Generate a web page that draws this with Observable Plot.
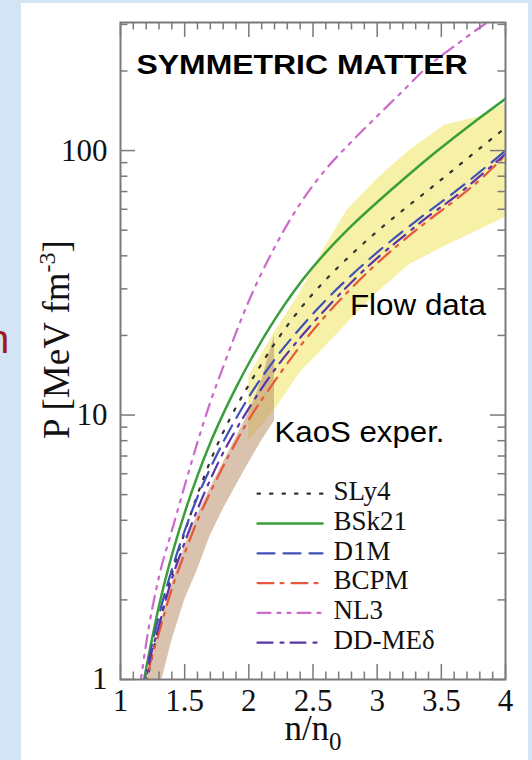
<!DOCTYPE html>
<html><head><meta charset="utf-8">
<script src="https://cdn.jsdelivr.net/npm/d3@7"></script>
<script src="https://cdn.jsdelivr.net/npm/@observablehq/plot@0.6"></script>
<style>
body{margin:0;}
#page{position:relative;width:532px;height:760px;overflow:hidden;background:#d4e4f4;}
#panel{position:absolute;left:21px;top:3px;width:507px;height:757px;background:#fff;}
#stray{position:absolute;left:-13px;top:319px;font:40px/40px "Liberation Sans",Arial,sans-serif;color:#9a1c1c;}
#chart{position:absolute;left:0;top:0;}
</style></head><body>
<div id="page"><div id="panel"></div><div id="stray">n</div><div id="chart"></div></div>
<script>
// ---- data ----
const nGrid = [1.15, 1.2, 1.3, 1.4, 1.5, 1.6, 1.7, 1.8, 1.9, 2.0, 2.2, 2.4, 2.6, 2.8, 3.0, 3.2, 3.4, 3.6, 3.8, 4.0];
const sly4  = [0.7, 0.95, 1.6, 2.5, 3.6, 5.0, 6.7, 8.6, 10.7, 13.0, 18.6, 25.2, 32.5, 40.5, 49.5, 59.5, 71, 85, 102, 122];
const bsk21 = [0.82, 1.1, 1.9, 2.95, 4.27, 5.9, 7.85, 10.1, 12.7, 15.7, 22.9, 31.6, 41.2, 51.9, 63.8, 77.6, 93.8, 112, 133, 157];
const d1m   = [0.75, 1.05, 1.75, 2.6, 3.65, 4.9, 6.3, 7.9, 9.7, 11.7, 16.2, 21.3, 27.2, 33.8, 41.2, 49.5, 58.8, 69.5, 83, 100];
const bcpm  = [0.6, 0.95, 1.5, 2.2, 3.0, 4.0, 5.1, 6.4, 7.9, 9.6, 13.4, 18.2, 23.8, 30.2, 37.5, 45.5, 54.5, 64.5, 77.5, 96];
const nl3   = [0.93, 1.37, 2.45, 3.65, 5.4, 7.9, 11.2, 15.2, 20.5, 27.0, 43, 63, 85, 108, 135, 168, 209, 248, 292, 339];
const ddme  = [0.65, 1.0, 1.6, 2.4, 3.3, 4.4, 5.7, 7.2, 8.8, 10.6, 14.8, 19.6, 25.2, 31.8, 39.2, 47.2, 56.5, 66.5, 80, 97];

const seriesNames  = ["SLy4", "BSk21", "D1M", "BCPM", "NL3", "DD-MEδ"];
const seriesValues = [sly4, bsk21, d1m, bcpm, nl3, ddme];
const seriesColors = ["#333333", "#3a9e3a", "#3f51b5", "#e8573c", "#cc6acc", "#5b35a8"];
const seriesDash   = ["2.5,10", null, "17,9", "16,7,3,8", "13,7,3,7,3,7", "15,8,3,7"];
const seriesWidth  = [2.2, 2.5, 2.2, 2.2, 2.2, 2.2];

const flowN    = [2.0, 2.2, 2.4, 2.58, 2.76, 3.0, 3.25, 3.53, 3.79, 4.0];
const flowHigh = [14, 20.5, 29, 42, 59, 78, 100, 125, 134, 150];
const flowLow  = [8.0, 10.4, 14.5, 17.8, 22, 29, 37, 43.5, 50, 56];

const kaosN    = [1.2, 1.3, 1.4, 1.5, 1.6, 1.7, 1.8, 1.9, 2.0, 2.1, 2.2];
const kaosHigh = [0.95, 1.55, 2.3, 3.2, 4.2, 5.3, 6.6, 8.2, 10.2, 13.5, 20];
const kaosLow  = [0.6, 0.9, 1.4, 2.0, 2.6, 3.5, 4.4, 5.4, 6.6, 8.0, 9.5];

const xMajor = [1, 1.5, 2, 2.5, 3, 3.5, 4];
const xMinor = [1.1,1.2,1.3,1.4,1.6,1.7,1.8,1.9,2.1,2.2,2.3,2.4,2.6,2.7,2.8,2.9,3.1,3.2,3.3,3.4,3.6,3.7,3.8,3.9];
const yMajor = [1, 10, 100];
const yMinor = [2,3,4,5,6,7,8,9,20,30,40,50,60,70,80,90,200,300];

const annotations = [
  {text: "Flow data", n: 2.788, p: 23.9, size: 29, len: 136},
  {text: "KaoS exper.", n: 2.2, p: 7.9, size: 29, len: 170}
];

// ---- layout ----
const W = 532, H = 760, mL = 120, mR = 27, mT = 22, mB = 81;
const xDomain = [1, 4], yDomain = [1, 305];
const plotW = W - mL - mR, plotH = H - mT - mB;
const xs = d3.scaleLinear(xDomain, [mL, W - mR]);
const ys = d3.scaleLog(yDomain, [H - mB, mT]);
const serif = "Liberation Serif, Times New Roman, serif";
const sans = "Liberation Sans, Arial, sans-serif";
const axisColor = "#7a7a7a";

const curveMarks = seriesNames.map((name, i) =>
  Plot.line(nGrid.map((n, j) => ({n, p: seriesValues[i][j]})), {
    x: "n", y: "p", stroke: seriesColors[i], strokeWidth: seriesWidth[i],
    strokeDasharray: seriesDash[i], curve: "monotone-x", clip: true
  }));

// legend (placed in plot coordinates)
const legendMarks = seriesNames.flatMap((name, i) => {
  const base = 499.5 + 29.8 * i;
  const yl = ys.invert(base - 6.3);
  return [
    Plot.line([{n: xs.invert(257), p: yl}, {n: xs.invert(322), p: yl}], {
      x: "n", y: "p", stroke: seriesColors[i], strokeWidth: seriesWidth[i], strokeDasharray: seriesDash[i]
    }),
    Plot.text([{n: xs.invert(333), p: ys.invert(base), t: name}], {
      x: "n", y: "p", text: "t", textAnchor: "start", lineAnchor: "bottom",
      fontFamily: serif, fontSize: 27, fill: "#111"
    })
  ];
});

const svg = Plot.plot({
  width: W, height: H,
  marginLeft: mL, marginRight: mR, marginTop: mT, marginBottom: mB,
  style: {background: "transparent", overflow: "visible"},
  x: {domain: xDomain, axis: null},
  y: {type: "log", domain: yDomain, axis: null},
  marks: [
    Plot.areaY(flowN.map((n, i) => ({n, lo: flowLow[i], hi: flowHigh[i]})),
      {x: "n", y1: "lo", y2: "hi", fill: "#f3ec8a", fillOpacity: 0.75, clip: true}),
    Plot.areaY(kaosN.map((n, i) => ({n, lo: kaosLow[i], hi: kaosHigh[i]})),
      {x: "n", y1: "lo", y2: "hi", fill: "#b98f6b", fillOpacity: 0.55, clip: true}),
    ...curveMarks,
    // ticks, pointing inward on all four sides
    Plot.ruleX(xMajor, {x: d => d, insetTop: plotH - 15, stroke: axisColor, strokeWidth: 1.5}),
    Plot.ruleX(xMajor, {x: d => d, insetBottom: plotH - 15, stroke: axisColor, strokeWidth: 1.5}),
    Plot.ruleX(xMinor, {x: d => d, insetTop: plotH - 7.5, stroke: axisColor, strokeWidth: 1.5}),
    Plot.ruleX(xMinor, {x: d => d, insetBottom: plotH - 7.5, stroke: axisColor, strokeWidth: 1.5}),
    Plot.ruleY(yMajor, {y: d => d, insetRight: plotW - 15, stroke: axisColor, strokeWidth: 1.5}),
    Plot.ruleY(yMajor, {y: d => d, insetLeft: plotW - 15, stroke: axisColor, strokeWidth: 1.5}),
    Plot.ruleY(yMinor, {y: d => d, insetRight: plotW - 7.5, stroke: axisColor, strokeWidth: 1.5}),
    Plot.ruleY(yMinor, {y: d => d, insetLeft: plotW - 7.5, stroke: axisColor, strokeWidth: 1.5}),
    Plot.frame({stroke: axisColor, strokeWidth: 2}),
    // tick labels
    Plot.text(xMajor, {x: d => d, frameAnchor: "bottom", dy: 31.4, lineAnchor: "bottom",
      text: d => String(d), fontFamily: serif, fontSize: 31, fill: "#111"}),
    Plot.text(yMajor, {y: d => d, frameAnchor: "left", dx: -13, textAnchor: "end",
      text: d => String(d), fontFamily: serif, fontSize: 31, fill: "#111"}),
    // axis labels
    Plot.text(["n/n0"], {frameAnchor: "bottom", dy: 60, lineAnchor: "bottom", text: d => d,
      fontFamily: serif, fontSize: 35, fill: "#111"}),
    Plot.text(["P [MeV fm-3]"], {frameAnchor: "left", dx: -52, dy: -11.5, rotate: -90, lineAnchor: "bottom",
      textAnchor: "middle", text: d => d, fontFamily: serif, fontSize: 37, fill: "#111"}),
    // annotations
    Plot.text(["SYMMETRIC MATTER"], {frameAnchor: "top-left", dx: 16, dy: 51, lineAnchor: "bottom",
      textAnchor: "start", text: d => d, fontFamily: sans, fontWeight: "bold", fontSize: 27.5, fill: "#000"}),
    Plot.text(annotations, {x: "n", y: "p", text: "text", textAnchor: "start", lineAnchor: "bottom",
      fontFamily: sans, fontSize: 29, fill: "#000"}),
    ...legendMarks
  ]
});

// ---- post-processing of text: stretched widths, sub/superscripts ----
const fit = {"SYMMETRIC MATTER": 331};
annotations.forEach(a => fit[a.text] = a.len);
d3.select(svg).selectAll("text").each(function() {
  const t = this.textContent;
  if (fit[t]) {
    this.setAttribute("textLength", fit[t]);
    this.setAttribute("lengthAdjust", "spacingAndGlyphs");
  } else if (t === "n/n0") {
    const s = d3.select(this); s.text(null);
    s.append("tspan").text("n/n");
    s.append("tspan").attr("dy", 10).attr("font-size", 25).text("0");
  } else if (t === "P [MeV fm-3]") {
    const s = d3.select(this); s.text(null);
    s.attr("text-anchor", "middle");
    s.append("tspan").text("P [MeV fm");
    s.append("tspan").attr("dy", -14).attr("font-size", 24).text("-3");
    s.append("tspan").attr("dy", 14).text("]");
  }
});
document.getElementById("chart").appendChild(svg);
</script>
</body></html>
